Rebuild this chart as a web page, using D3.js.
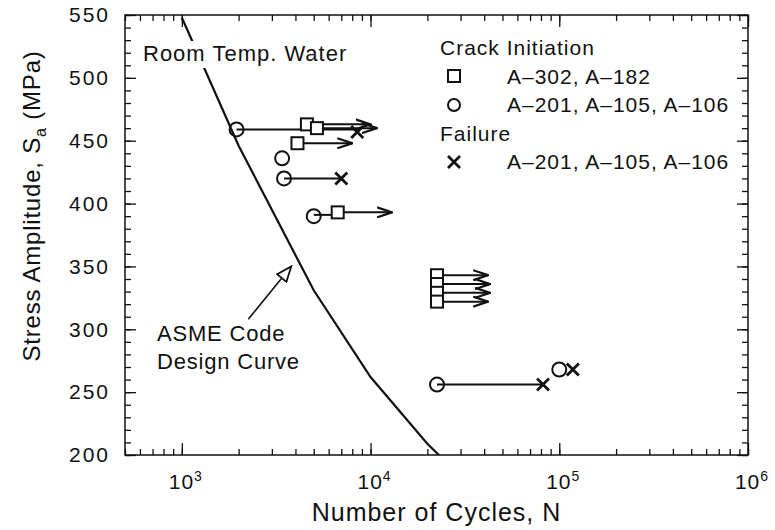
<!DOCTYPE html>
<html>
<head>
<meta charset="utf-8">
<script src="https://cdn.jsdelivr.net/npm/d3@7"></script>
<style>
  body { margin: 0; background: #fff; }
  svg { display: block; font-family: "Liberation Sans", Arial, Helvetica, sans-serif; }
</style>
</head>
<body>
<svg id="chart" width="775" height="530"></svg>
<script>
// ASME code design curve (cycles, stress amplitude MPa)
const curveN = [1000, 2000, 5000, 10000, 20000, 50000];
const curveS = [548, 446, 331, 262, 209, 150];

// crack initiation, A-302 / A-182 (squares)
const squareN = [4600, 5200, 4100, 6700, 22500, 22500, 22500, 22500];
const squareS = [463, 460, 448, 393, 343, 336, 329, 322];

// crack initiation, A-201 / A-105 / A-106 (circles)
const circleN = [1950, 3400, 3480, 5000, 22500, 100000];
const circleS = [459, 436, 420, 390, 256, 268];

// failure (crosses)
const crossN = [8500, 7000, 82000, 118000];
const crossS = [457, 420, 256, 268];

// lines joining initiation to failure
const joinFrom = [1950, 3480, 5000, 22500];
const joinTo = [8500, 7000, 6700, 82000];
const joinS = [459, 420, 391, 256];

// run-out arrows
const runFrom = [4600, 5200, 4100, 6700, 22500, 22500, 22500, 22500];
const runTo = [10000, 10800, 8000, 13000, 42000, 43000, 43000, 42000];
const runS = [463, 460, 448, 393, 343, 336, 329, 322];

// annotation arrow to the curve
const noteFrom = [2250, 308];
const noteTo = [3800, 350];

const yTicks = [200, 250, 300, 350, 400, 450, 500, 550];
const xExp = [3, 4, 5, 6];

const legendHead = ["Crack Initiation", "Failure"];
const legendText = ["A\u2013302, A\u2013182", "A\u2013201, A\u2013105, A\u2013106", "A\u2013201, A\u2013105, A\u2013106"];

const svg = d3.select("#chart");
const pl = 125, pr = 748, pt = 15, pb = 455;
const ink = "#111";

const x = d3.scaleLog().domain([500, 1e6]).range([pl, pr]);
const y = d3.scaleLinear().domain([200, 550]).range([pb, pt]);

const defs = svg.append("defs");
defs.append("clipPath").attr("id", "plot")
  .append("rect").attr("x", pl).attr("y", pt)
  .attr("width", pr - pl).attr("height", pb - pt);

defs.append("marker")
  .attr("id", "head").attr("viewBox", "0 0 16 12")
  .attr("refX", 15).attr("refY", 6)
  .attr("markerWidth", 16).attr("markerHeight", 12)
  .attr("markerUnits", "userSpaceOnUse").attr("orient", "auto")
  .append("path").attr("d", "M0,1 L15,6 L0,11")
  .attr("fill", "none").attr("stroke", ink).attr("stroke-width", 2.2);

// open triangle head for the annotation arrow
defs.append("marker")
  .attr("id", "tri").attr("viewBox", "0 0 18 14")
  .attr("refX", 16).attr("refY", 7)
  .attr("markerWidth", 18).attr("markerHeight", 14)
  .attr("markerUnits", "userSpaceOnUse").attr("orient", "auto")
  .append("path").attr("d", "M1,1 L16,7 L1,13 Z")
  .attr("fill", "#fff").attr("stroke", ink).attr("stroke-width", 1.8);

// frame ticks
const minorY = d3.range(200, 551, 10);
const minorX = [];
[2, 3, 4, 5].forEach(e => d3.range(1, 10).forEach(k => {
  const v = k * Math.pow(10, e);
  if (v >= 500 && v <= 1e6) minorX.push(v);
}));
minorX.push(1e6);

function tickAxis(axis, tr, size, vals) {
  const g = svg.append("g").attr("transform", tr)
    .call(axis.tickValues(vals).tickSize(size).tickFormat(""));
  g.select(".domain").remove();
  g.selectAll("line").attr("stroke", ink).attr("stroke-width", 1.3);
}
tickAxis(d3.axisLeft(y), `translate(${pl},0)`, -6, minorY);
tickAxis(d3.axisLeft(y), `translate(${pl},0)`, -11, yTicks);
tickAxis(d3.axisRight(y), `translate(${pr},0)`, -6, minorY);
tickAxis(d3.axisRight(y), `translate(${pr},0)`, -11, yTicks);
tickAxis(d3.axisBottom(x), `translate(0,${pb})`, -6, minorX);
tickAxis(d3.axisBottom(x), `translate(0,${pb})`, -12, xExp.map(e => Math.pow(10, e)));
tickAxis(d3.axisTop(x), `translate(0,${pt})`, -6, minorX);
tickAxis(d3.axisTop(x), `translate(0,${pt})`, -12, xExp.map(e => Math.pow(10, e)));

svg.append("rect").attr("x", pl).attr("y", pt)
  .attr("width", pr - pl).attr("height", pb - pt)
  .attr("fill", "none").attr("stroke", ink).attr("stroke-width", 1.5);

// y tick labels
const yLab = svg.append("g").attr("transform", `translate(${pl},0)`)
  .call(d3.axisLeft(y).tickValues(yTicks).tickSize(0).tickPadding(15));
yLab.select(".domain").remove();
yLab.selectAll("text").attr("font-size", 21).attr("fill", ink)
  .attr("font-family", "Liberation Sans, Arial, sans-serif").attr("letter-spacing", 2);

// x tick labels 10^n
const xLab = svg.append("g");
xExp.forEach(e => {
  const t = xLab.append("text").attr("x", x(Math.pow(10, e)) + 4).attr("y", 489)
    .attr("text-anchor", "middle").attr("font-size", 21).attr("fill", ink)
    .attr("letter-spacing", 1);
  t.append("tspan").text("10");
  t.append("tspan").attr("dy", -8).attr("font-size", 14).text(e);
});

// axis titles
svg.append("text").attr("x", (pl + pr) / 2).attr("y", 521)
  .attr("text-anchor", "middle").attr("font-size", 25).attr("fill", ink)
  .attr("letter-spacing", 1).text("Number of Cycles, N");

const yt = svg.append("text").attr("transform", "translate(40,206) rotate(-90)")
  .attr("text-anchor", "middle").attr("font-size", 24).attr("fill", ink)
  .attr("letter-spacing", 0.8);
yt.append("tspan").text("Stress Amplitude, S");
yt.append("tspan").attr("dy", 6).attr("font-size", 16).text("a");
yt.append("tspan").attr("dy", -6).text(" (MPa)");

// design curve
const plot = svg.append("g").attr("clip-path", "url(#plot)");
plot.append("path")
  .datum(curveN.map((n, i) => [n, curveS[i]]))
  .attr("d", d3.line().x(d => x(d[0])).y(d => y(d[1])))
  .attr("fill", "none").attr("stroke", ink).attr("stroke-width", 2.2);

// environment label with knock-out behind it
const envBg = svg.append("rect").attr("fill", "#fff");
const env = svg.append("text").attr("x", 143).attr("y", 61)
  .attr("font-size", 22).attr("fill", ink).attr("letter-spacing", 1)
  .text("Room Temp. Water");
const eb = env.node().getBBox();
envBg.attr("x", eb.x - 2).attr("y", eb.y)
  .attr("width", eb.width + 4).attr("height", eb.height + 2);

// joining lines
plot.selectAll(".join").data(joinS).join("line").attr("class", "join")
  .attr("x1", (d, i) => x(joinFrom[i])).attr("x2", (d, i) => x(joinTo[i]))
  .attr("y1", d => y(d)).attr("y2", d => y(d))
  .attr("stroke", ink).attr("stroke-width", 2);

// run-out arrows
plot.selectAll(".run").data(runS).join("line").attr("class", "run")
  .attr("x1", (d, i) => x(runFrom[i])).attr("x2", (d, i) => x(runTo[i]))
  .attr("y1", d => y(d)).attr("y2", d => y(d))
  .attr("stroke", ink).attr("stroke-width", 2)
  .attr("marker-end", "url(#head)");

// markers
const sq = 12, rc = 7, cr = 6;
plot.selectAll(".sq").data(squareS).join("rect").attr("class", "sq")
  .attr("x", (d, i) => x(squareN[i]) - sq / 2).attr("y", d => y(d) - sq / 2)
  .attr("width", sq).attr("height", sq)
  .attr("fill", "#fff").attr("stroke", ink).attr("stroke-width", 2);

plot.selectAll(".ci").data(circleS).join("circle").attr("class", "ci")
  .attr("cx", (d, i) => x(circleN[i])).attr("cy", d => y(d)).attr("r", rc)
  .attr("fill", "none").attr("stroke", ink).attr("stroke-width", 2);

plot.selectAll(".cr").data(crossS).join("path").attr("class", "cr")
  .attr("transform", (d, i) => `translate(${x(crossN[i])},${y(d)})`)
  .attr("d", `M${-cr},${-cr}L${cr},${cr}M${-cr},${cr}L${cr},${-cr}`)
  .attr("stroke", ink).attr("stroke-width", 2.8);

// annotation
svg.append("line")
  .attr("x1", x(noteFrom[0])).attr("y1", y(noteFrom[1]))
  .attr("x2", x(noteTo[0])).attr("y2", y(noteTo[1]))
  .attr("stroke", ink).attr("stroke-width", 1.6).attr("marker-end", "url(#tri)");
const note = svg.append("g").attr("font-size", 22).attr("fill", ink).attr("letter-spacing", 0.8);
note.append("text").attr("x", 157).attr("y", 341).text("ASME Code");
note.append("text").attr("x", 157).attr("y", 369).text("Design Curve");

// legend
const lg = svg.append("g").attr("font-size", 21).attr("fill", ink).attr("letter-spacing", 1);
lg.append("text").attr("x", 440).attr("y", 55).text(legendHead[0]);
lg.append("text").attr("x", 440).attr("y", 141).text(legendHead[1]);
const rowY = [84, 112, 169];
legendText.forEach((t, i) => lg.append("text").attr("x", 507).attr("y", rowY[i]).text(t));
lg.append("rect").attr("x", 448).attr("y", rowY[0] - 14).attr("width", 12).attr("height", 12)
  .attr("fill", "none").attr("stroke", ink).attr("stroke-width", 2);
lg.append("circle").attr("cx", 454).attr("cy", rowY[1] - 7).attr("r", 6)
  .attr("fill", "none").attr("stroke", ink).attr("stroke-width", 2);
lg.append("path").attr("transform", `translate(454,${rowY[2] - 7})`)
  .attr("d", "M-6,-6L6,6M-6,6L6,-6").attr("stroke", ink).attr("stroke-width", 2.8);
</script>
</body>
</html>
